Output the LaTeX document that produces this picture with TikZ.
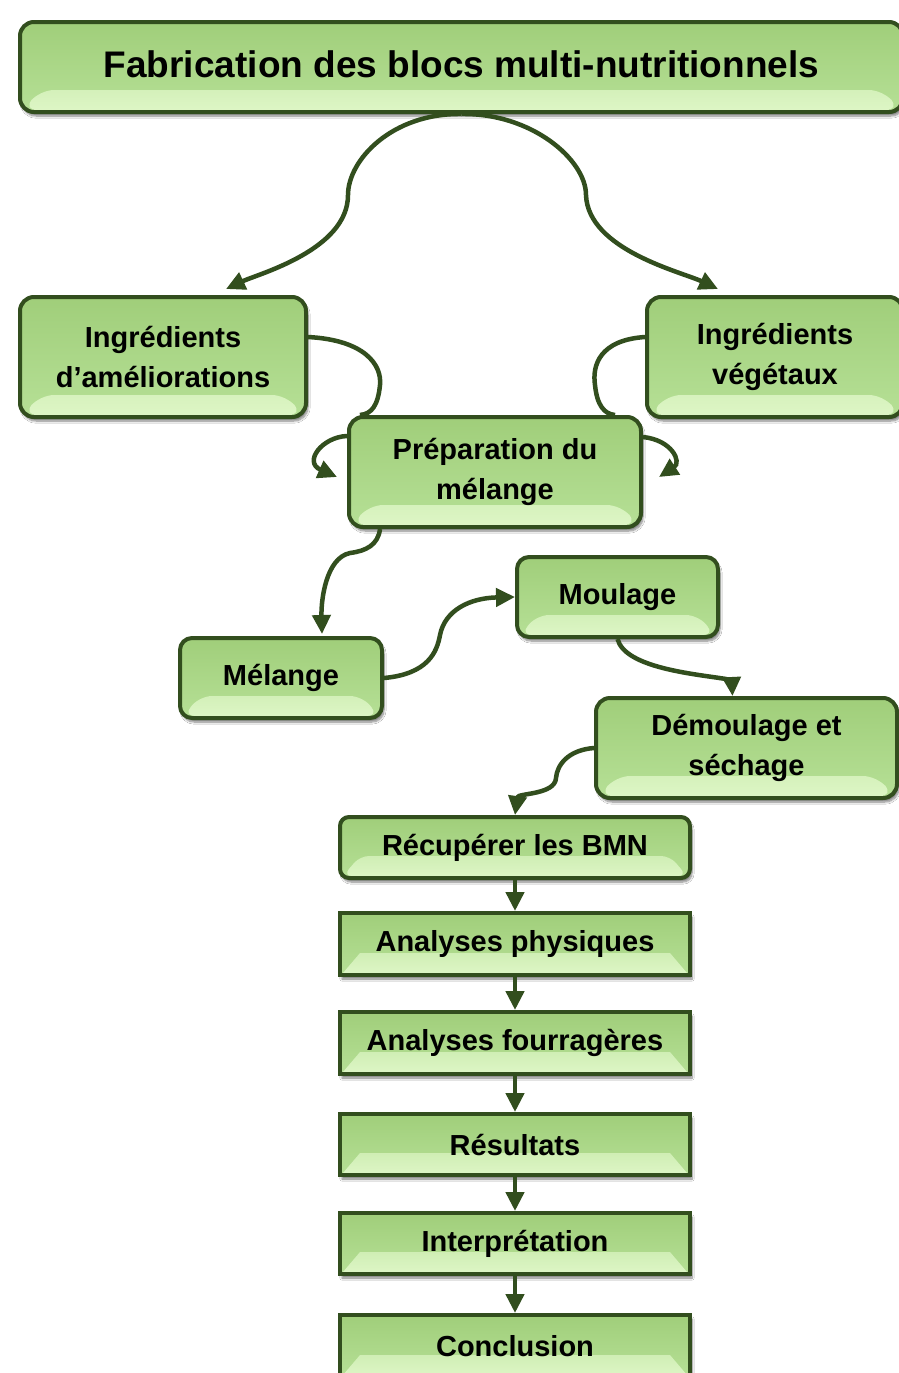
\documentclass[tikz,border=0pt]{standalone}
\usepackage{fontspec}
\setmainfont{Liberation Sans}
\usetikzlibrary{arrows.meta,shadows.blur}
\definecolor{bord}{RGB}{50,78,30}
\definecolor{gtop}{RGB}{160,206,122}
\definecolor{gmid}{RGB}{182,224,150}
\definecolor{glow}{RGB}{222,246,198}
\tikzset{
  bx/.style={draw=bord, line width=4pt, top color=gtop, bottom color=gmid,
    inner sep=0pt, align=center,
    font=\bfseries\fontsize{29}{39.5}\selectfont,
    blur shadow={shadow xshift=2pt, shadow yshift=-4pt, shadow blur steps=8, shadow opacity=50},
    path picture={
      \shade[top color=gmid, bottom color=glow]
        ([shift={(3pt,2pt)}]path picture bounding box.south west) --
        ([shift={(-3pt,2pt)}]path picture bounding box.south east) --
        ([shift={(-20pt,22pt)}]path picture bounding box.south east) --
        ([shift={(20pt,22pt)}]path picture bounding box.south west) -- cycle;
    }},
  link/.style={draw=bord, line width=4.5pt, -{Triangle[length=19pt,width=18pt]}},
  plainlink/.style={draw=bord, line width=4.5pt}
}
\begin{document}
\begin{tikzpicture}[x=1pt,y=-1pt]
\useasboundingbox (0,0) rectangle (899,1373);
\clip (0,0) rectangle (899,1373);
\fill[white] (0,0) rectangle (899,1373);

% nodes
\node[bx, rounded corners=14pt, minimum width=883pt, minimum height=90pt,
      font=\bfseries\fontsize{37}{44}\selectfont] (title) at (461.5,67) {\raisebox{5pt}{Fabrication des blocs multi-nutritionnels}};
\node[bx, rounded corners=14pt, minimum width=286pt, minimum height=120pt] (ingA) at (163,357) {Ingrédients\\d’améliorations};
\node[bx, rounded corners=14pt, minimum width=256pt, minimum height=120pt] (ingV) at (775,357) {Ingrédients\\végétaux};
\node[bx, rounded corners=14pt, minimum width=292pt, minimum height=110pt] (prep) at (495,472) {Préparation du\\mélange};
\node[bx, rounded corners=12pt, minimum width=202pt, minimum height=80pt] (mel) at (281,678) {Mélange};
\node[bx, rounded corners=12pt, minimum width=201pt, minimum height=80pt] (moul) at (617.5,597) {Moulage};
\node[bx, rounded corners=14pt, minimum width=301pt, minimum height=100pt] (dem) at (746.5,748) {Démoulage et\\séchage};
\node[bx, rounded corners=9pt, minimum width=350pt, minimum height=61pt] (recup) at (515,847.5) {\raisebox{-2pt}{Récupérer les BMN}};
\node[bx, minimum width=350pt, minimum height=62pt] (phys) at (515,944) {Analyses physiques};
\node[bx, minimum width=350pt, minimum height=62pt] (fourr) at (515,1043) {Analyses fourragères};
\node[bx, minimum width=350pt, minimum height=61pt] (resul) at (515,1144.5) {Résultats};
\node[bx, minimum width=350pt, minimum height=61pt] (interp) at (515,1243.5) {Interprétation};
\node[bx, minimum width=350pt, minimum height=62pt] (concl) at (515,1346) {Conclusion};

% connectors
\draw[link] (title.south) .. controls (392,113) and (348,160) .. (348,195)
  .. controls (348,250) and (258,274) .. ([shift={(63pt,6pt)}]ingA.north);
\draw[link] (title.south) .. controls (532,113) and (586,160) .. (586,195)
  .. controls (588,250) and (682,272) .. ([shift={(-57pt,6pt)}]ingV.north);

\draw[plainlink] ([yshift=20pt]ingA.east) .. controls (365,340) and (382,365) .. (380,385)
  .. controls (378,405) and (372,414) .. ([xshift=13pt]prep.north west);
\draw[plainlink] ([yshift=20pt]ingV.west) .. controls (600,340) and (592,365) .. (595,385)
  .. controls (597,405) and (604,414) .. ([xshift=-28pt]prep.north east);

\draw[link] ([yshift=36pt]prep.west) .. controls (322,437) and (303,462) .. ([shift={(-10pt,-5pt)}]prep.west);
\draw[link] ([yshift=35pt]prep.east) .. controls (672,440) and (682,462) .. ([shift={(16pt,-5pt)}]prep.east);

\draw[link] ([xshift=-115pt]prep.south) .. controls (378,545) and (366,551) .. (350,553)
  .. controls (326,558) and (321,600) .. ([shift={(41pt,2pt)}]mel.north);
\draw[link] (mel.east) .. controls (428,674) and (437,652) .. (440,635)
  .. controls (445,610) and (470,598) .. (moul.west);
\draw[link] (moul.south) .. controls (625,668) and (695,674) .. (726,679)
  .. controls (731,681) and (732,686) .. ([xshift=-14pt]dem.north);
\draw[link] (dem.west) .. controls (568,750) and (557,765) .. (556,778)
  .. controls (555,795) and (518,793) .. (recup.north);

\draw[link] (recup.south) -- (phys.north);
\draw[link] (phys.south) -- (fourr.north);
\draw[link] (fourr.south) -- (resul.north);
\draw[link] (resul.south) -- (interp.north);
\draw[link] (interp.south) -- (concl.north);
\end{tikzpicture}
\end{document}
